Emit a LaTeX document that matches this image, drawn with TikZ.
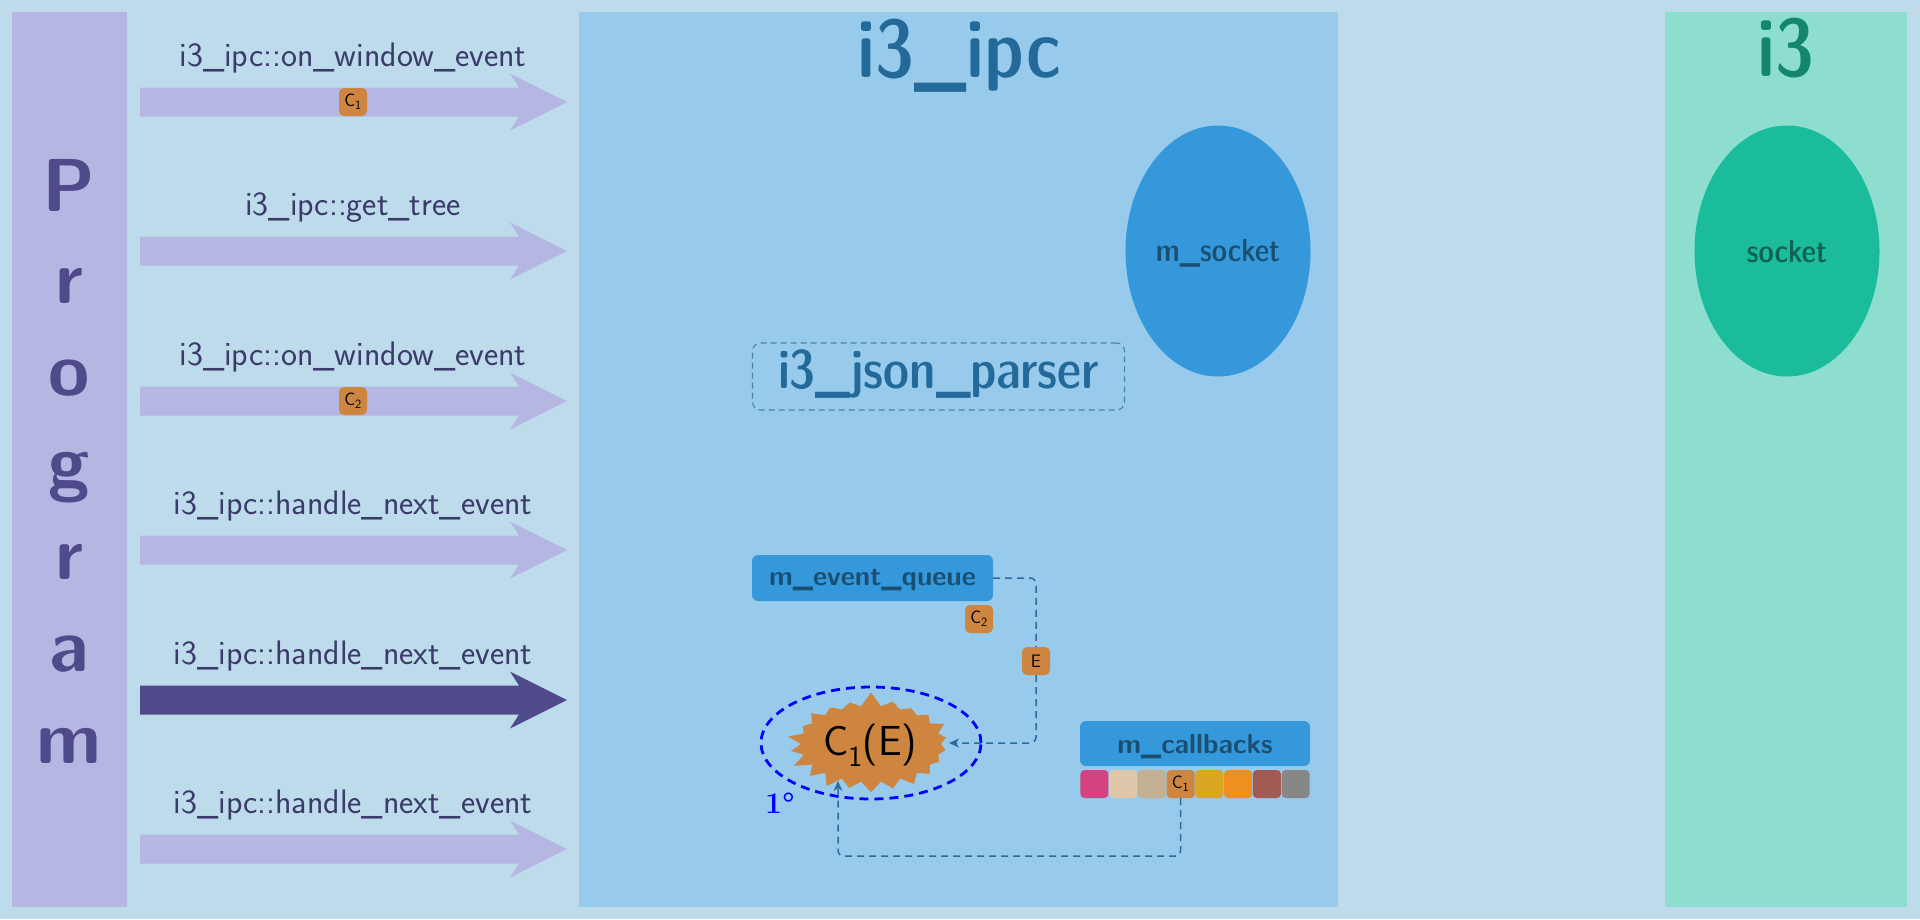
\documentclass[tikz,border=0pt]{standalone}
\usepackage{fontspec}
\usetikzlibrary{shapes.geometric,shapes.symbols,arrows.meta}
\newfontfamily\lmdc{lmsansdemicond10-regular.otf}
\definecolor{bg}{HTML}{BDDBEB}
\definecolor{progbox}{HTML}{B5B7E2}
\definecolor{progtxt}{HTML}{4F4B8A}
\definecolor{lbltxt}{HTML}{3A3A6B}
\definecolor{ipcbox}{HTML}{98CAEC}
\definecolor{ipctxt}{HTML}{236A9A}
\definecolor{ithreebox}{HTML}{8EDED0}
\definecolor{ithreetxt}{HTML}{13866B}
\definecolor{sockblue}{HTML}{3498DB}
\definecolor{socktxt}{HTML}{1B4F72}
\definecolor{sockgreen}{HTML}{1ABC9C}
\definecolor{sockgtxt}{HTML}{0E6251}
\definecolor{orng}{HTML}{CD853F}
\definecolor{connc}{HTML}{2E6C9E}
\definecolor{sqa}{HTML}{D3437F}
\definecolor{sqb}{HTML}{DFC8A9}
\definecolor{sqc}{HTML}{C4B193}
\definecolor{sqd}{HTML}{CD853F}
\definecolor{sqe}{HTML}{DAA520}
\definecolor{sqf}{HTML}{EE8F1F}
\definecolor{sqg}{HTML}{A35A55}
\definecolor{sqh}{HTML}{878787}
\begin{document}
\begin{tikzpicture}[x=1pt,y=-1pt,
  lbl/.style={anchor=base,text=lbltxt,inner sep=0pt,font=\sffamily\fontsize{34}{34}\selectfont},
  progletter/.style={anchor=base,text=progtxt,inner sep=0pt,font=\sffamily\bfseries\fontsize{75}{75}\selectfont},
  badge/.style={fill=orng,rounded corners=5pt,minimum width=28pt,minimum height=28pt,inner sep=0pt,text=black,font=\sffamily\fontsize{18}{18}\selectfont},
  membox/.style={fill=sockblue,rounded corners=6pt,inner sep=0pt,text=socktxt,font=\sffamily\bfseries\fontsize{27.5}{27.5}\selectfont},
  cbsq/.style={rounded corners=4pt,minimum width=28pt,minimum height=28pt,inner sep=0pt,font=\sffamily\fontsize{18}{18}\selectfont},
  conn/.style={draw=connc,line width=1.5pt,dash pattern=on 7pt off 5pt,rounded corners=6pt},
  tip/.style={-{Stealth[length=10pt,width=9pt,inset=3pt]}}
]
\useasboundingbox (0,0) rectangle (1920,919);
\fill[bg] (0,0) rectangle (1920,919);
% panels
\fill[progbox] (12,12) rectangle (127,907);
\fill[ipcbox] (579,12) rectangle (1338,907);
\fill[ithreebox] (1665,12) rectangle (1907,907);
% Program letters
\foreach \ch [count=\i from 0] in {P,r,o,g,r,a,m}
  \node[progletter] (p\i) at (69,{211+92*\i}) {\ch};
% big arrows
\foreach \yy/\cc in {102/progbox,251/progbox,401/progbox,550/progbox,700/progtxt,849/progbox}
  \fill[\cc] (140,\yy-14.5) -- (519,\yy-14.5) -- (510,\yy-28.5) -- (567,\yy) -- (510,\yy+28.5) -- (519,\yy+14.5) -- (140,\yy+14.5) -- cycle;
% arrow labels
\node[lbl] (l1) at (353,66) {i3\_ipc::on\_window\_event};
\node[lbl] (l2) at (353,215) {i3\_ipc::get\_tree};
\node[lbl] (l3) at (353,365) {i3\_ipc::on\_window\_event};
\node[lbl] (l4) at (353,514) {i3\_ipc::handle\_next\_event};
\node[lbl] (l5) at (353,664) {i3\_ipc::handle\_next\_event};
\node[lbl] (l6) at (353,813) {i3\_ipc::handle\_next\_event};
\node[badge] (b1) at (353,102) {C$_{\mathsf{1}}$};
\node[badge] (b3) at (353,401) {C$_{\mathsf{2}}$};
% titles
\node[anchor=base,inner sep=0pt,text=ipctxt,font=\lmdc\fontsize{82}{82}\selectfont] (ipc) at (959,77) {i3\_ipc};
\node[anchor=base,inner sep=0pt,text=ithreetxt,font=\lmdc\fontsize{82}{82}\selectfont] (ithree) at (1786,76) {i3};
% sockets
\node[ellipse,fill=sockblue,minimum width=185pt,minimum height=251pt,inner sep=0pt] (msock) at (1218,251) {};
\node[anchor=base,inner sep=0pt,text=socktxt,font=\lmdc\fontsize{32}{32}\selectfont] at (1218,261) {m\_socket};
\node[ellipse,fill=sockgreen,minimum width=185pt,minimum height=251pt,inner sep=0pt] (sock) at (1787,251) {};
\node[anchor=base,inner sep=0pt,text=sockgtxt,font=\lmdc\fontsize{32}{32}\selectfont] at (1787,262) {socket};
% json parser
\node[draw=connc!85,line width=1.1pt,dash pattern=on 6pt off 4pt,rounded corners=8pt,minimum width=372pt,minimum height=67pt,inner sep=0pt] (json) at (938.5,376.5) {};
\node[anchor=base,inner sep=0pt,text=ipctxt,font=\lmdc\fontsize{54.5}{54.5}\selectfont] at (938.5,388) {i3\_json\_parser};
% event queue
\node[membox,minimum width=241pt,minimum height=46pt] (meq) at (872.5,578) {};
\node[anchor=base,inner sep=0pt,text=socktxt,font=\sffamily\bfseries\fontsize{27.5}{27.5}\selectfont] at (872.5,585) {m\_event\_queue};
\node[badge] (c2) at (979,619) {C$_{\mathsf{2}}$};
% callbacks
\node[membox,minimum width=230pt,minimum height=45pt] (mcb) at (1195,743.5) {};
\node[anchor=base,inner sep=0pt,text=socktxt,font=\sffamily\bfseries\fontsize{27.5}{27.5}\selectfont] at (1195,753) {m\_callbacks};
\foreach \c [count=\i from 0] in {sqa,sqb,sqc,sqd,sqe,sqf,sqg,sqh}
  \node[cbsq,fill=\c] (sq\i) at ({1094.4+28.75*\i},784) {};
\node[inner sep=0pt,font=\sffamily\fontsize{18}{18}\selectfont] at (sq3) {C$_{\mathsf{1}}$};
% burst
\node[starburst,fill=orng,starburst points=22,starburst point height=15pt,random starburst=7,minimum width=170pt,minimum height=106pt,inner sep=0pt] (burst) at (871,744) {};
\node[anchor=base,inner sep=0pt,font=\sffamily\fontsize{42}{42}\selectfont] at (870,755) {C$_{\mathsf{1}}$(E)};
\node[ellipse,draw=blue,line width=2.8pt,dash pattern=on 9pt off 6pt,minimum width=220pt,minimum height=112pt,inner sep=0pt] (ring) at (871,743) {};
\node[text=blue,inner sep=0pt,font=\rmfamily\bfseries\fontsize{30}{30}\selectfont] (deg) at (780,803) {1\textdegree};
% connectors
\node[badge] (ebadge) at (1036,661) {E};
\coordinate (ctip) at (838,781);
\coordinate (etip) at (949,743);
\draw[conn] (meq.east) -| (ebadge.north);
\draw[conn,tip] (ebadge.south) |- (etip);
\draw[conn,tip] (sq3.south) -- ++(0,58) -| (ctip);
\end{tikzpicture}
\end{document}
